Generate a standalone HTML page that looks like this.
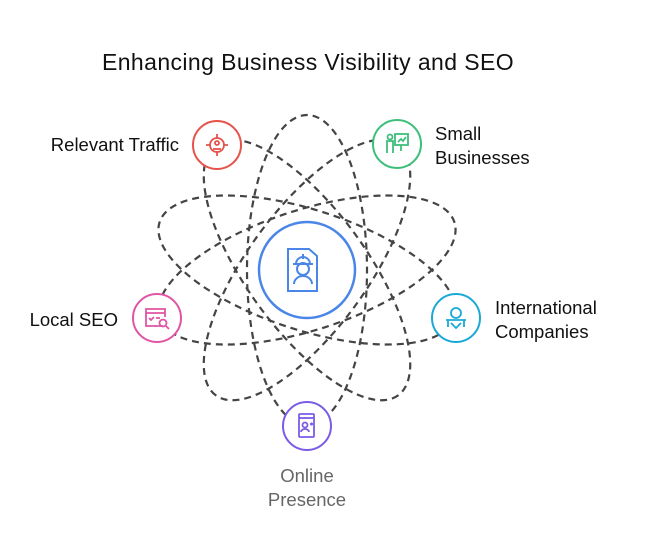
<!DOCTYPE html>
<html><head><meta charset="utf-8"><style>
html,body{margin:0;padding:0;background:#fff;}
svg{display:block;font-family:"Liberation Sans",sans-serif;}
</style></head><body>
<svg width="650" height="560" viewBox="0 0 650 560" xmlns="http://www.w3.org/2000/svg">
<rect width="650" height="560" fill="#fff"/>
<text x="308" y="70" font-size="23" letter-spacing="0.4" text-anchor="middle" fill="#111">Enhancing Business Visibility and SEO</text>
<g fill="none" stroke="#444" stroke-width="2.2" stroke-dasharray="7 5">
<ellipse cx="307" cy="270" rx="155" ry="60" transform="rotate(90 307 270)"/>
<ellipse cx="307" cy="270" rx="155" ry="60" transform="rotate(18 307 270)"/>
<ellipse cx="307" cy="270" rx="155" ry="60" transform="rotate(162 307 270)"/>
<ellipse cx="307" cy="270" rx="155" ry="60" transform="rotate(126 307 270)"/>
<ellipse cx="307" cy="270" rx="155" ry="60" transform="rotate(54 307 270)"/>
</g>
<circle cx="307" cy="270" r="48" fill="#fff" stroke="#4a86e8" stroke-width="2.5"/>
<g fill="none" stroke="#4a86e8" stroke-width="2">
<path d="M288 249 h21 l8 7 v35 h-29 z"/>
<path d="M296 264 a7 7 0 0 1 14 0 M293 264 h20 M303 254 v5"/>
<circle cx="303" cy="269" r="6"/>
<path d="M294 284 a9 8 0 0 1 18 0"/>
</g>
<circle cx="217" cy="145" r="24" fill="#fff" stroke="#e5534b" stroke-width="2"/>
<g fill="none" stroke="#e5534b" stroke-width="1.8">
<circle cx="217" cy="145" r="7"/><path d="M217 134v5M217 151v5M206 145h5M223 145h5"/>
<circle cx="217" cy="143" r="2"/><path d="M213 149h8"/>
</g>
<text x="179" y="151" font-size="18.5" text-anchor="end" fill="#111">Relevant Traffic</text>
<circle cx="397" cy="144" r="24" fill="#fff" stroke="#3cbf7a" stroke-width="2"/>
<g fill="none" stroke="#3cbf7a" stroke-width="1.8">
<rect x="395" y="134" width="13" height="11"/><path d="M398 142l3-3 2 2 3-4M401 145v6"/>
<circle cx="390" cy="137" r="2.5"/><path d="M387 153v-12h6v12"/>
</g>
<text x="435" y="140" font-size="18.5" fill="#111">Small</text>
<text x="435" y="164" font-size="18.5" fill="#111">Businesses</text>
<circle cx="157" cy="318" r="24" fill="#fff" stroke="#e055a5" stroke-width="2"/>
<g fill="none" stroke="#e055a5" stroke-width="1.8">
<path d="M163 326h-17v-17h19v8M146 313h19M149 318l2 2 3-3M156 318h4"/>
<circle cx="163" cy="323" r="3.5"/><path d="M166 326l3 3"/>
</g>
<text x="118" y="326" font-size="18.5" text-anchor="end" fill="#111">Local SEO</text>
<circle cx="456" cy="318" r="24" fill="#fff" stroke="#1aa9d6" stroke-width="2"/>
<g fill="none" stroke="#1aa9d6" stroke-width="1.8">
<circle cx="456" cy="313" r="5"/><path d="M446 320h20M448 320v7M464 320v7M451 323l5 5 5-5"/>
</g>
<text x="495" y="314" font-size="18.5" fill="#111">International</text>
<text x="495" y="338" font-size="18.5" fill="#111">Companies</text>
<circle cx="307" cy="426" r="24" fill="#fff" stroke="#7b5ce6" stroke-width="2"/>
<g fill="none" stroke="#7b5ce6" stroke-width="1.8">
<rect x="299" y="414" width="15" height="23" rx="1"/><path d="M299 418h15"/>
<circle cx="305" cy="425" r="2.5"/><path d="M301 432a4 3 0 0 1 8 0M310 424h3M311.5 422.5v3"/>
</g>
<text x="307" y="482" font-size="18.5" text-anchor="middle" fill="#666">Online</text>
<text x="307" y="506" font-size="18.5" text-anchor="middle" fill="#666">Presence</text>
</svg>
</body></html>
